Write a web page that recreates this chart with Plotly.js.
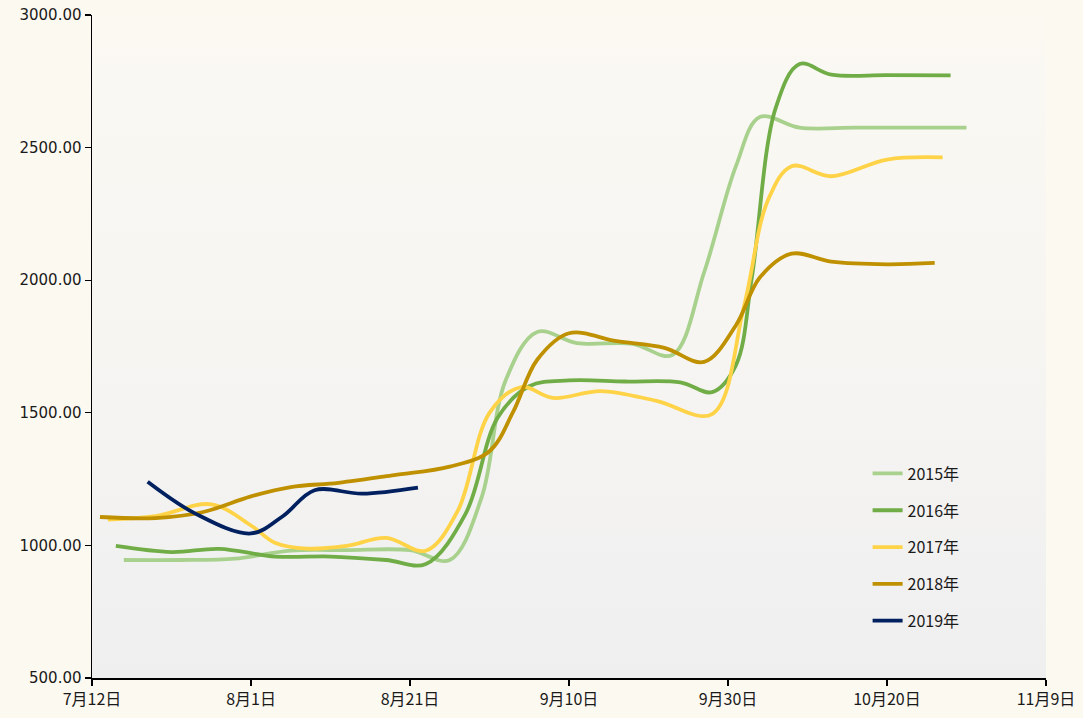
<!DOCTYPE html>
<html>
<head>
<meta charset="utf-8">
<script src="https://cdn.plot.ly/plotly-3.0.1.min.js"></script>
<style>
html,body{margin:0;padding:0;background:#fcf9f1;}
#chart{width:1083px;height:718px;}
</style>
</head>
<body>
<div id="chart"></div>
<script>
// ---- data ----
const seriesNames = ['2015年','2016年','2017年','2018年','2019年'];

const dates2015 = ['2019-07-16','2019-07-23','2019-07-30','2019-08-06','2019-08-13','2019-08-21','2019-08-26','2019-08-30','2019-09-02','2019-09-06','2019-09-11','2019-09-18','2019-09-23','2019-09-27','2019-10-01','2019-10-04','2019-10-09','2019-10-16','2019-10-23','2019-10-30'];
const vals2015  = [945,945,950,980,982,982,945,1180,1620,1805,1763,1760,1718,2030,2430,2615,2575,2575,2575,2575];

const dates2016 = ['2019-07-15','2019-07-22','2019-07-28','2019-08-04','2019-08-11','2019-08-18','2019-08-23','2019-08-28','2019-09-01','2019-09-05','2019-09-10','2019-09-17','2019-09-24','2019-09-28','2019-10-01','2019-10-03','2019-10-06','2019-10-09','2019-10-13','2019-10-20','2019-10-28'];
const vals2016  = [998,975,987,958,958,945,930,1120,1480,1600,1622,1618,1615,1578,1680,2010,2650,2815,2775,2773,2772];

const dates2017 = ['2019-07-14','2019-07-20','2019-07-27','2019-08-01','2019-08-04','2019-08-08','2019-08-13','2019-08-18','2019-08-23','2019-08-27','2019-08-31','2019-09-04','2019-09-08','2019-09-14','2019-09-21','2019-09-28','2019-10-02','2019-10-05','2019-10-08','2019-10-13','2019-10-20','2019-10-27'];
const vals2017  = [1097,1110,1155,1075,1010,988,998,1028,980,1130,1500,1597,1556,1582,1545,1495,1900,2300,2430,2392,2455,2463];

const dates2018 = ['2019-07-13','2019-07-20','2019-07-26','2019-08-01','2019-08-06','2019-08-12','2019-08-19','2019-08-26','2019-08-31','2019-09-03','2019-09-06','2019-09-10','2019-09-16','2019-09-22','2019-09-27','2019-10-01','2019-10-04','2019-10-08','2019-10-13','2019-10-20','2019-10-26'];
const vals2018  = [1107,1103,1126,1185,1220,1236,1265,1297,1355,1505,1700,1800,1770,1745,1692,1830,2010,2100,2070,2060,2065];

const dates2019 = ['2019-07-19','2019-07-25','2019-08-01','2019-08-05','2019-08-09','2019-08-15','2019-08-22'];
const vals2019  = [1240,1120,1045,1110,1208,1195,1218];

const xTickVals = ['2019-07-12','2019-08-01','2019-08-21','2019-09-10','2019-09-30','2019-10-20','2019-11-09'];
const xTickText = ['7月12日','8月1日','8月21日','9月10日','9月30日','10月20日','11月9日'];
const yTickVals = [500,1000,1500,2000,2500,3000];

// ---- styles ----
const colors = ['#a9d18e','#70ad47','#ffd347','#bf9000','#002060'];
const allDates = [dates2015,dates2016,dates2017,dates2018,dates2019];
const allVals  = [vals2015,vals2016,vals2017,vals2018,vals2019];

const traces = seriesNames.map((n,i)=>({
  type:'scatter', mode:'lines', name:n,
  x:allDates[i], y:allVals[i],
  line:{color:colors[i], width:3.8, shape:'spline', smoothing:1},
  legendgroup:'g'+i,
  hoverinfo:'skip'
}));

const svg = '<svg xmlns="http://www.w3.org/2000/svg" width="100" height="100" preserveAspectRatio="none">'+
  '<defs><linearGradient id="g" x1="0" y1="0" x2="0" y2="1">'+
  '<stop offset="0" stop-color="#fcf9f2"/><stop offset="0.08" stop-color="#faf8f2"/>'+
  '<stop offset="0.5" stop-color="#f6f5f2"/><stop offset="1" stop-color="#efeff0"/>'+
  '</linearGradient></defs><rect width="100" height="100" fill="url(#g)"/></svg>';
const bgSrc = 'data:image/svg+xml;charset=utf-8,' + encodeURIComponent(svg);

const layout = {
  width:1083, height:718,
  margin:{l:92, r:37, t:15, b:40},
  paper_bgcolor:'#fcf9f1',
  plot_bgcolor:'rgba(0,0,0,0)',
  showlegend:true,
  legend:{
    x:0.813, xanchor:'left', y:0.334, yanchor:'top',
    bgcolor:'rgba(0,0,0,0)',
    font:{family:'"Noto Sans CJK SC", "Noto Sans", sans-serif', size:16, color:'#1a1a1a'},
    tracegroupgap:13, itemwidth:30
  },
  xaxis:{
    type:'date',
    range:['2019-07-12','2019-11-09'],
    tickmode:'array', tickvals:xTickVals, ticktext:xTickText,
    showgrid:false, zeroline:false,
    showline:true, linecolor:'#000', linewidth:1.5,
    ticks:'outside', ticklen:6, tickcolor:'#000', tickwidth:1.2,
    tickfont:{family:'"Noto Sans CJK SC", sans-serif', size:16, color:'#1a1a1a'},
    fixedrange:true
  },
  yaxis:{
    range:[500,3000],
    tickmode:'array', tickvals:yTickVals, tickformat:'.2f',
    showgrid:false, zeroline:false,
    showline:true, linecolor:'#000', linewidth:1.5,
    ticks:'outside', ticklen:6, tickcolor:'#000', tickwidth:1.2,
    tickfont:{family:'"DejaVu Sans", sans-serif', size:15, color:'#1a1a1a'},
    fixedrange:true
  },
  images:[{
    source:bgSrc, xref:'paper', yref:'paper', x:0, y:1, sizex:1, sizey:1,
    xanchor:'left', yanchor:'top', sizing:'stretch', layer:'below'
  }]
};

Plotly.newPlot('chart', traces, layout, {displayModeBar:false, staticPlot:true});
</script>
</body>
</html>
